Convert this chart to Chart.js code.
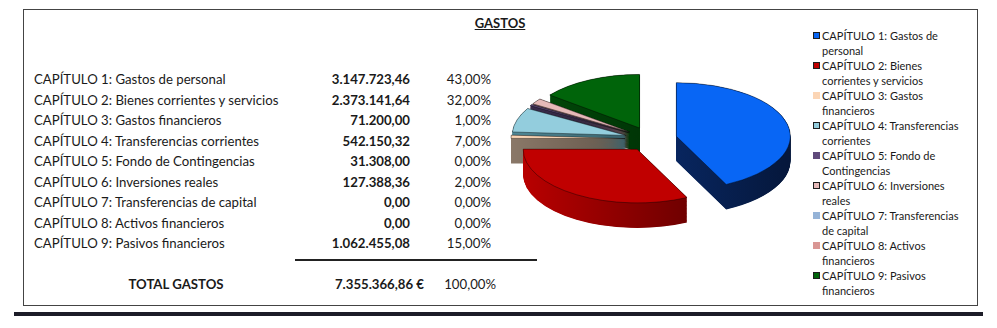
<!DOCTYPE html>
<html lang="es">
<head>
<meta charset="utf-8">
<title>Gastos</title>
<script src="https://cdn.jsdelivr.net/npm/chart.js@4.4.0/dist/chart.umd.min.js"></script>
<style>
  html, body { margin: 0; padding: 0; background: #fff; }
  body { width: 997px; height: 328px; position: relative; overflow: hidden;
         font-family: Lato, "Open Sans", sans-serif; color: #1a1a1a; }
  #frame { position: absolute; left: 23px; top: 9px; width: 953px; height: 295px; border: 1px solid #444; }
  #bar { position: absolute; left: 14px; top: 312px; width: 969px; height: 4px; background: #1c1c28; }
  #title { position: absolute; left: 450px; width: 100px; top: 15px; text-align: center;
           font-weight: bold; font-size: 13px; text-decoration: underline; }
  #table { position: absolute; left: 34px; top: 69px; width: 462px; font-size: 13.2px; line-height: 20.5px; }
  .row { position: relative; height: 20.5px; white-space: nowrap; }
  .row span { position: absolute; top: 0; }
  .val { right: 86px; font-weight: bold; }
  .pct { right: 5px; }
  #rule { position: absolute; left: 295px; top: 259px; width: 242px; height: 2px; background: #222; }
  #total { position: absolute; left: 34px; top: 274px; width: 462px; font-size: 13.2px; line-height: 20.5px; white-space: nowrap; }
  #total span { position: absolute; top: 0; }
  #total .name { left: 0; width: 284px; text-align: center; font-weight: bold; }
  #total .val { right: 72px; }
  #total .pct { right: 0; }
  #pieBox { position: absolute; left: 501px; top: 14px; width: 300px; height: 250px; }
  #legend { position: absolute; left: 813px; top: 27.5px; font-size: 11px; line-height: 15px; }
  .item { display: flex; align-items: flex-start; }
  .mark { width: 7px; height: 7px; margin-top: 4px; margin-right: 2px; box-sizing: border-box; flex: none; }
  .txt { width: 145px; }
</style>
</head>
<body>
<div id="frame"></div>
<div id="bar"></div>
<div id="title">GASTOS</div>
<div id="table"></div>
<div id="rule"></div>
<div id="total"></div>
<div id="pieBox"><canvas id="pie"></canvas></div>
<div id="legend"></div>

<script>
// budget chapters, amounts in euros and the rounded shares shown in the table
const labels = [
  'CAPÍTULO 1: Gastos de personal',
  'CAPÍTULO 2: Bienes corrientes y servicios',
  'CAPÍTULO 3: Gastos financieros',
  'CAPÍTULO 4: Transferencias corrientes',
  'CAPÍTULO 5: Fondo de Contingencias',
  'CAPÍTULO 6: Inversiones reales',
  'CAPÍTULO 7: Transferencias de capital',
  'CAPÍTULO 8: Activos financieros',
  'CAPÍTULO 9: Pasivos financieros'
];
const amounts = [3147723.46, 2373141.64, 71200.00, 542150.32, 31308.00, 127388.36, 0.00, 0.00, 1062455.08];
const percents = [43, 32, 1, 7, 0, 2, 0, 0, 15];

// slice colours (top face), side colours, and which legend squares get an outline
const colors = ['#0866f5', '#c00000', '#fbd5b5', '#93cddd', '#604a7b', '#e6b9b8', '#95b3d7', '#d99694', '#00640a'];
const sideColors = ['#0b3482', '#b80000', '#8a7868', '#4f8795', '#3b2d4d', '#8c6a6a', '#5a7090', '#8a5a58', '#004a08'];
const outlined = [true, true, false, true, false, true, false, false, true];

// Spanish number format: 1.234.567,89
function fmt(n) {
  const parts = n.toFixed(2).split('.');
  return parts[0].replace(/\B(?=(\d{3})+(?!\d))/g, '.') + ',' + parts[1];
}

// table on the left
const table = document.getElementById('table');
labels.forEach((label, i) => {
  const row = document.createElement('div');
  row.className = 'row';
  row.innerHTML = '<span>' + label + '</span>' +
    '<span class="val">' + fmt(amounts[i]) + '</span>' +
    '<span class="pct">' + fmt(percents[i]) + '%</span>';
  table.appendChild(row);
});
const total = amounts.reduce((a, b) => a + b, 0);
const totalPct = percents.reduce((a, b) => a + b, 0);
document.getElementById('total').innerHTML =
  '<span class="name">TOTAL GASTOS</span>' +
  '<span class="val" style="font-weight:bold">' + fmt(total) + ' €</span>' +
  '<span class="pct">' + fmt(totalPct) + '%</span>';

// legend on the right
const legend = document.getElementById('legend');
labels.forEach((label, i) => {
  const item = document.createElement('div');
  item.className = 'item';
  const border = outlined[i] ? 'border:1px solid #1e1e1e;' : '';
  item.innerHTML = '<span class="mark" style="background:' + colors[i] + ';' + border + '"></span>' +
    '<span class="txt">' + label + '</span>';
  legend.appendChild(item);
});

function shade(hex, f) {
  const n = parseInt(hex.slice(1), 16);
  const r = Math.round((n >> 16) * f), g = Math.round(((n >> 8) & 255) * f), b = Math.round((n & 255) * f);
  return 'rgb(' + r + ',' + g + ',' + b + ')';
}

const K = 0.47;       // vertical squash, gives the tilted look
const DEPTH = 25;     // height of the pie sides in pixels
const EXPLODE = 26;   // how far every slice is pulled out

// fake 3D: pull slices out, squash the pie and extrude it downwards
const pie3d = {
  id: 'pie3d',
  afterDatasetsUpdate(chart) {
    chart.getDatasetMeta(0).data.forEach(arc => {
      const mid = (arc.startAngle + arc.endAngle) / 2;
      arc.x += Math.cos(mid) * EXPLODE;
      arc.y += Math.sin(mid) * EXPLODE;
    });
  },
  beforeDatasetsDraw(chart) {
    const ctx = chart.ctx;
    const a = chart.chartArea;
    const cx = (a.left + a.right) / 2, cy = (a.top + a.bottom) / 2;
    ctx.save();
    ctx.translate(cx, cy);
    ctx.scale(1, K);
    ctx.translate(-cx, -cy);

    const arcs = chart.getDatasetMeta(0).data
      .map((arc, i) => ({arc, i}))
      .filter(o => o.arc.circumference > 0)
      .sort((p, q) => p.arc.y - q.arc.y);   // back slices first
    arcs.forEach(({arc, i}) => {
      const r = arc.outerRadius;
      const grad = ctx.createLinearGradient(arc.x - r, 0, arc.x + r, 0);
      grad.addColorStop(0, sideColors[i]);
      grad.addColorStop(1, shade(sideColors[i], 0.45));
      const own = arc.options;
      arc.options = Object.create(own, {
        backgroundColor: {value: grad},
        borderWidth: {value: 0}
      });
      for (let d = DEPTH / K; d > 0; d -= 1) {
        ctx.save();
        ctx.translate(0, d);
        arc.draw(ctx);
        ctx.restore();
      }
      arc.options = own;
    });
  },
  afterDatasetsDraw(chart) {
    chart.ctx.restore();
  }
};

new Chart(document.getElementById('pie'), {
  type: 'pie',
  data: {
    labels: labels,
    datasets: [{
      data: amounts,
      backgroundColor: colors,
      borderColor: 'rgba(0,0,0,0.55)',
      borderWidth: 1,
      clip: false
    }]
  },
  options: {
    responsive: true,
    maintainAspectRatio: false,
    animation: false,
    events: [],
    radius: 114,
    layout: { padding: 0 },
    plugins: {
      legend: { display: false },
      tooltip: { enabled: false }
    }
  },
  plugins: [pie3d]
});
</script>
</body>
</html>
